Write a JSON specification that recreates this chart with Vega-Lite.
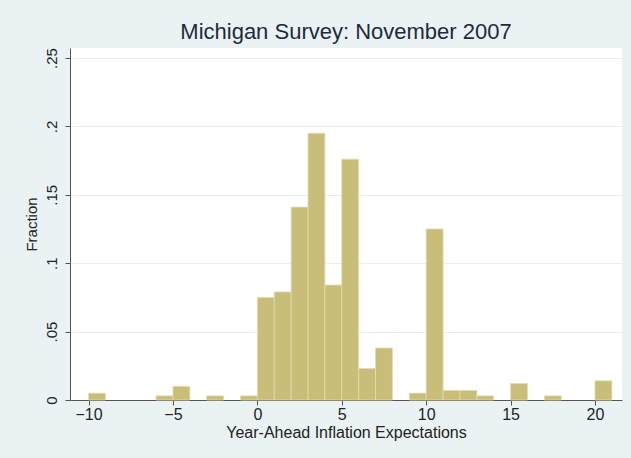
{
  "$schema": "https://vega.github.io/schema/vega-lite/v6.json",
  "autosize": "none",
  "width": 552,
  "height": 352,
  "padding": {"left": 70, "top": 48, "right": 9, "bottom": 58},
  "background": "#EAF2F3",
  "config": {
    "view": {"fill": "white", "stroke": null},
    "font": "Liberation Sans"
  },
  "title": {
    "text": "Michigan Survey: November 2007",
    "fontSize": 22,
    "fontWeight": "normal",
    "color": "#1f2a3c",
    "anchor": "middle",
    "offset": 4
  },
  "data": {
    "values": [
      {"bin_start": -10, "bin_end": -9, "fraction": 0.005},
      {"bin_start": -6, "bin_end": -5, "fraction": 0.003},
      {"bin_start": -5, "bin_end": -4, "fraction": 0.010},
      {"bin_start": -3, "bin_end": -2, "fraction": 0.003},
      {"bin_start": -1, "bin_end": 0, "fraction": 0.003},
      {"bin_start": 0, "bin_end": 1, "fraction": 0.075},
      {"bin_start": 1, "bin_end": 2, "fraction": 0.079},
      {"bin_start": 2, "bin_end": 3, "fraction": 0.141},
      {"bin_start": 3, "bin_end": 4, "fraction": 0.195},
      {"bin_start": 4, "bin_end": 5, "fraction": 0.084},
      {"bin_start": 5, "bin_end": 6, "fraction": 0.176},
      {"bin_start": 6, "bin_end": 7, "fraction": 0.023},
      {"bin_start": 7, "bin_end": 8, "fraction": 0.038},
      {"bin_start": 9, "bin_end": 10, "fraction": 0.005},
      {"bin_start": 10, "bin_end": 11, "fraction": 0.125},
      {"bin_start": 11, "bin_end": 12, "fraction": 0.007},
      {"bin_start": 12, "bin_end": 13, "fraction": 0.007},
      {"bin_start": 13, "bin_end": 14, "fraction": 0.003},
      {"bin_start": 15, "bin_end": 16, "fraction": 0.012},
      {"bin_start": 17, "bin_end": 18, "fraction": 0.003},
      {"bin_start": 20, "bin_end": 21, "fraction": 0.014}
    ]
  },
  "mark": {"type": "bar", "color": "#C9BD7A", "stroke": "#E4DCAA", "strokeWidth": 0.8, "cornerRadius": 0},
  "encoding": {
    "x": {
      "field": "bin_start",
      "type": "quantitative",
      "scale": {"domain": [-11.1, 21.6], "nice": false, "zero": false},
      "axis": {
        "title": "Year-Ahead Inflation Expectations",
        "values": [-10, -5, 0, 5, 10, 15, 20],
        "grid": false,
        "domainColor": "#555555",
        "tickColor": "#555555",
        "tickSize": 5,
        "labelFontSize": 16,
        "labelColor": "#222222",
        "labelPadding": 1,
        "titleFontSize": 16,
        "titleFontWeight": "normal",
        "titleColor": "#222222",
        "titlePadding": 2
      }
    },
    "x2": {"field": "bin_end"},
    "y": {
      "field": "fraction",
      "type": "quantitative",
      "scale": {"domain": [0, 0.2573], "nice": false},
      "axis": {
        "title": "Fraction",
        "values": [0, 0.05, 0.1, 0.15, 0.2, 0.25],
        "labelExpr": "replace(format(datum.value, '.2~f'), '0.', '.')",
        "labelAngle": -90,
        "labelAlign": "center",
        "labelBaseline": "bottom",
        "labelFontSize": 15,
        "labelColor": "#222222",
        "labelPadding": 6,
        "grid": true,
        "gridColor": "#E8EFF1",
        "gridWidth": 1,
        "domainColor": "#555555",
        "tickColor": "#555555",
        "tickSize": 5,
        "titleFontSize": 15,
        "titleFontWeight": "normal",
        "titleColor": "#222222",
        "titlePadding": 5
      }
    },
    "y2": {"datum": 0}
  }
}
